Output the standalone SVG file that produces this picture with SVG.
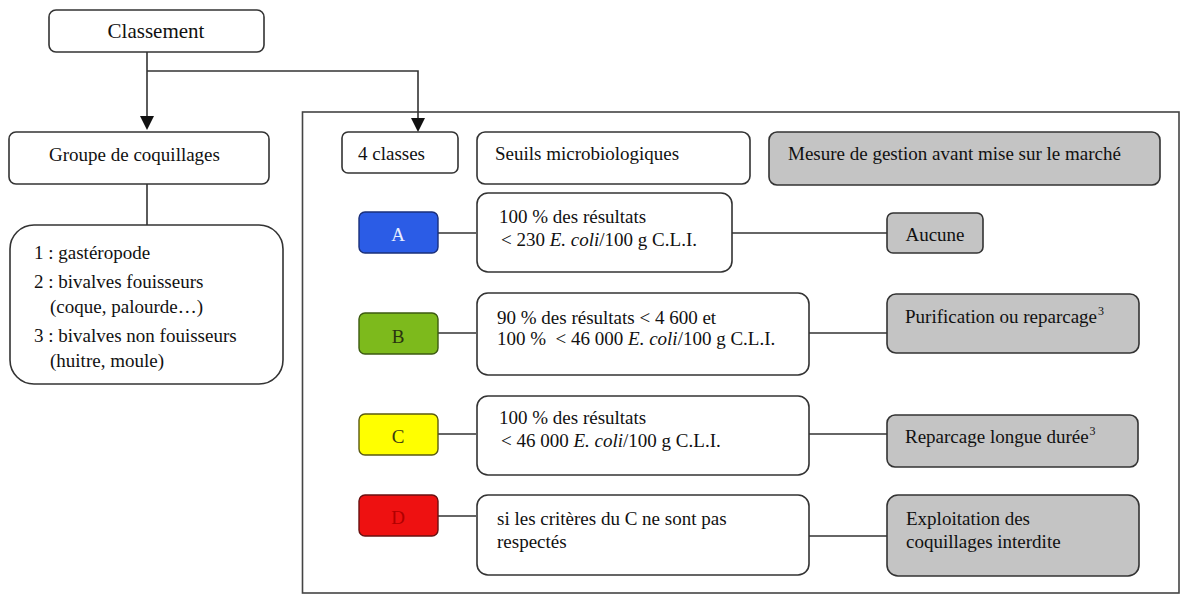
<svg xmlns="http://www.w3.org/2000/svg" width="1186" height="595" viewBox="0 0 1186 595">
<style>
text{font-family:"Liberation Serif","Times New Roman",serif;font-size:19px;fill:#111}
.box{fill:#fff;stroke:#333;stroke-width:1.6}
.gray{fill:#c4c4c4;stroke:#333;stroke-width:1.6}
.ln{fill:none;stroke:#333;stroke-width:1.6}
.c{text-anchor:middle}
.sup{font-size:12px}
.pre{white-space:pre}
</style>
<rect x="0" y="0" width="1186" height="595" fill="#fff"/>
<rect id="frame" x="302.5" y="112" width="876.5" height="481" fill="none" stroke="#444" stroke-width="1.6"/>
<g id="connectors">
<path class="ln" d="M147,52 V116"/>
<path d="M140,116 L154,116 L147,130 Z" fill="#111"/>
<path class="ln" d="M147,71 H418 V118"/>
<path d="M411,118 L425,118 L418,132 Z" fill="#111"/>
<path class="ln" d="M147,184 V225"/>
<path class="ln" d="M438,233 H476"/>
<path class="ln" d="M732,233 H887"/>
<path class="ln" d="M438,333 H476"/>
<path class="ln" d="M809,333 H887"/>
<path class="ln" d="M438,434 H476"/>
<path class="ln" d="M809,434 H887"/>
<path class="ln" d="M438,516 H476"/>
<path class="ln" d="M809,536 H887"/>
</g>
<g id="classement">
<rect class="box" x="49" y="10" width="215" height="42" rx="7"/>
<text class="c" x="156" y="38" style="font-size:21px">Classement</text>
</g>
<g id="groupe">
<rect class="box" x="9" y="132" width="260" height="52" rx="7"/>
<text x="49" y="161">Groupe de coquillages</text>
</g>
<g id="liste">
<rect class="box" x="10" y="225" width="273" height="159" rx="24"/>
<text x="34" y="259">1 : gastéropode</text>
<text x="34" y="288">2 : bivalves fouisseurs</text>
<text x="50" y="313">(coque, palourde…)</text>
<text x="34" y="342">3 : bivalves non fouisseurs</text>
<text x="50" y="367">(huitre, moule)</text>
</g>
<g id="classes">
<rect class="box" x="342" y="132" width="116" height="41" rx="6"/>
<text x="358" y="160">4 classes</text>
</g>
<g id="seuils">
<rect class="box" x="477" y="132" width="273" height="52" rx="8"/>
<text x="495" y="160">Seuils microbiologiques</text>
</g>
<g id="mesure">
<rect class="gray" x="769" y="132" width="391" height="53" rx="8"/>
<text x="788" y="160">Mesure de gestion avant mise sur le marché</text>
</g>
<g id="classA">
<rect x="359" y="212" width="79" height="41" rx="6" fill="#2b5ce6" stroke="#1a2f7a" stroke-width="1.4"/>
<text class="c" x="398" y="241" style="fill:#e8eeff">A</text>
</g>
<g id="critA">
<rect class="box" x="477" y="193" width="255" height="79" rx="11"/>
<text x="499" y="223">100 % des résultats</text>
<text x="501" y="246">&lt; 230 <tspan font-style="italic">E. coli</tspan>/100 g C.L.I.</text>
</g>
<g id="mesureA">
<rect class="gray" x="887" y="213" width="96" height="40" rx="6"/>
<text class="c" x="935" y="241">Aucune</text>
</g>
<g id="classB">
<rect x="359" y="313" width="79" height="41" rx="6" fill="#7dba1c" stroke="#3c5a10" stroke-width="1.4"/>
<text class="c" x="398" y="343" style="fill:#2a3310">B</text>
</g>
<g id="critB">
<rect class="box" x="477" y="293" width="332" height="82" rx="11"/>
<text x="497" y="324">90 % des résultats &lt; 4 600 et</text>
<text class="pre" x="497" y="345">100 %  &lt; 46 000 <tspan font-style="italic">E. coli</tspan>/100 g C.L.I.</text>
</g>
<g id="mesureB">
<rect class="gray" x="887" y="294" width="252" height="59" rx="9"/>
<text x="905" y="323">Purification ou reparcage<tspan class="sup" dx="1" dy="-8">3</tspan></text>
</g>
<g id="classC">
<rect x="359" y="414" width="79" height="41" rx="6" fill="#ffff00" stroke="#5a5a10" stroke-width="1.4"/>
<text class="c" x="398" y="443" style="fill:#3a3a10">C</text>
</g>
<g id="critC">
<rect class="box" x="477" y="396" width="332" height="79" rx="11"/>
<text x="499" y="424">100 % des résultats</text>
<text x="501" y="447">&lt; 46 000 <tspan font-style="italic">E. coli</tspan>/100 g C.L.I.</text>
</g>
<g id="mesureC">
<rect class="gray" x="887" y="415" width="251" height="52" rx="8"/>
<text x="905" y="443">Reparcage longue durée<tspan class="sup" dx="1" dy="-8">3</tspan></text>
</g>
<g id="classD">
<rect x="359" y="495" width="79" height="41" rx="6" fill="#ee1111" stroke="#6a1010" stroke-width="1.4"/>
<text class="c" x="398" y="524" style="fill:#b00000">D</text>
</g>
<g id="critD">
<rect class="box" x="477" y="495" width="332" height="80" rx="11"/>
<text x="497" y="525">si les critères du C ne sont pas</text>
<text x="497" y="548">respectés</text>
</g>
<g id="mesureD">
<rect class="gray" x="887" y="495" width="252" height="81" rx="11"/>
<text x="906" y="525">Exploitation des</text>
<text x="906" y="548">coquillages interdite</text>
</g>
</svg>
